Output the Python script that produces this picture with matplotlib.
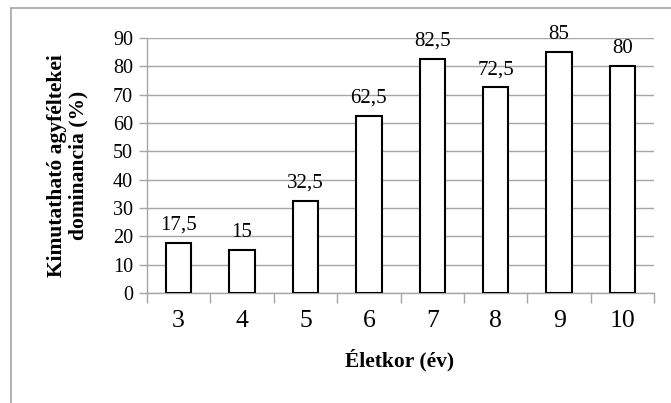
import matplotlib
matplotlib.use("Agg")
import matplotlib.pyplot as plt
import numpy as np

ages = ["3", "4", "5", "6", "7", "8", "9", "10"]
values = [17.5, 15, 32.5, 62.5, 82.5, 72.5, 85, 80]
labels = ["17,5", "15", "32,5", "62,5", "82,5", "72,5", "85", "80"]

plt.rcParams['font.family'] = ['Liberation Serif', 'DejaVu Serif']
grid_c = "#a6a6a6"

fig = plt.figure(figsize=(6.71, 4.03), dpi=100)
ax = fig.add_axes([0.219, 0.273, 0.756, 0.633])

x = np.arange(len(ages))
ax.bar(x, values, width=0.4, color="white", edgecolor="black", linewidth=1.5, zorder=3)
for xi, v, lab in zip(x, values, labels):
    ax.annotate(lab, (xi, v), xytext=(0, 6), textcoords="offset points",
                ha="center", va="bottom", fontsize=15)

ax.set_xlim(-0.5, len(ages) - 0.5)
ax.set_ylim(0, 90)
ax.set_yticks(range(0, 91, 10))
ax.set_xticks(x)
ax.set_xticklabels(ages, fontsize=18.5)
ax.tick_params(axis="x", length=0, pad=12)
ax.set_xticks(np.arange(-0.5, len(ages), 1), minor=True)
ax.tick_params(axis="x", which="minor", length=7, color=grid_c, width=1)
ax.tick_params(axis="y", labelsize=14.5, length=6, color=grid_c, width=1, pad=4)
ax.yaxis.grid(True, color=grid_c, linewidth=1, zorder=0)
ax.set_axisbelow(True)
for s in ["top", "right"]:
    ax.spines[s].set_visible(False)
for s in ["left", "bottom"]:
    ax.spines[s].set_color(grid_c)
    ax.spines[s].set_linewidth(1)

fig.text(400/671, 1 - 360/403, "Életkor (év)", fontsize=15.5, fontweight="bold",
         ha="center", va="center")
fig.text(67.5/671, 1 - 165.5/403, "Kimutatható agyféltekei\ndominancia (%)",
         fontsize=15.5, fontweight="bold", rotation=90, ha="center", va="center",
         multialignment="center", linespacing=1.1)

# chart frame (only left and top visible in the crop)
fig.add_artist(plt.Line2D([11/671, 11/671], [0, 1 - 8/403], color=grid_c, lw=1.2,
                          transform=fig.transFigure))
fig.add_artist(plt.Line2D([11/671, 1], [1 - 8/403, 1 - 8/403], color=grid_c, lw=1.2,
                          transform=fig.transFigure))

fig.savefig("out.png", dpi=100)
